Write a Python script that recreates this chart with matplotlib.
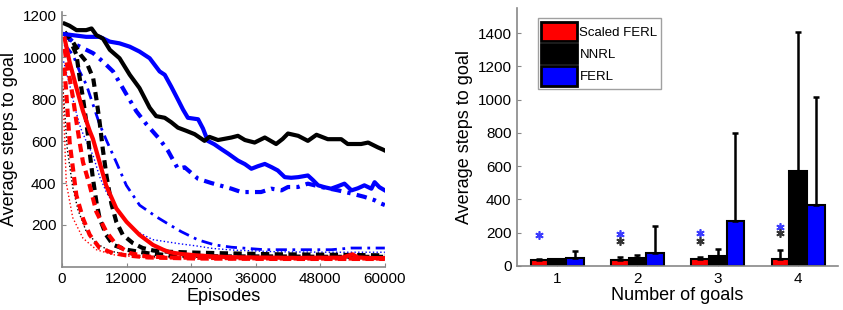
import matplotlib
matplotlib.use("Agg")
import matplotlib.pyplot as plt
import numpy as np

plt.rcParams['font.family'] = ['Liberation Sans', 'DejaVu Sans']

# ---- learning curves (episodes, average steps to goal) ----
# FERL (blue)
ferl_g4_x = [500, 2000, 4500, 7000, 8900, 10700, 12600, 14400, 16300, 18150, 19100, 20300, 21550, 22500,
             23400, 25300, 26200, 27100, 28300, 29600, 30900, 32700, 34000, 35200, 36400, 37700, 39000,
             40100, 41400, 42600, 43900, 45700, 46600, 47600, 48800, 50000, 51300, 52500, 53800, 55000,
             56200, 57500, 58100, 59000, 60000]
ferl_g4_y = [1110, 1105, 1097, 1097, 1074, 1066, 1050, 1027, 995, 932, 916, 860, 798, 750,
             711, 704, 660, 601, 585, 562, 540, 507, 490, 468, 480, 491, 475,
             460, 428, 425, 428, 436, 415, 389, 380, 373, 385, 397, 365, 375,
             389, 373, 404, 380, 365]
ferl_g3_x = [500, 2700, 5800, 7600, 9500, 12000, 13800, 15700, 18150, 19700, 21550, 22800, 25300, 27750,
             31500, 33300, 35200, 37000, 38900, 40800, 42000, 43850, 45700, 48200, 51300, 53800, 56200,
             58100, 59300, 60000]
ferl_g3_y = [1110, 1058, 1019, 979, 932, 822, 743, 680, 609, 554, 468, 475, 420, 400,
             373, 357, 357, 357, 373, 365, 381, 381, 397, 381, 365, 350, 334,
             318, 302, 295]
ferl_g2_x = [500, 2050, 3290, 4530, 5760, 7000, 8240, 10100, 11960, 14440, 17540, 19400, 22180, 25270,
             28370, 31470, 37660, 43850, 50050, 53770, 59340, 60000]
ferl_g2_y = [1060, 1011, 932, 869, 775, 680, 605, 499, 389, 294, 239, 210, 168, 129,
             105, 94, 82, 82, 82, 90, 90, 90]
ferl_g1_x = [300, 1500, 2500, 3500, 4500, 5800, 7000, 8200, 10700, 13800, 16900, 19400, 22000, 25000,
             28000, 32000, 40000, 50000, 60000]
ferl_g1_y = [980, 860, 750, 660, 600, 530, 430, 360, 250, 170, 130, 120, 110, 100,
             88, 80, 72, 70, 70]

# NNRL (black)
nnrl_g4_x = [500, 1400, 2700, 4500, 5500, 6400, 7600, 8900, 10700, 12600, 14400, 16300, 17500, 19100,
             20300, 21550, 23000, 24650, 26500, 27400, 29000, 31500, 32700, 34000, 35800, 37700, 39800,
             41000, 42000, 43900, 45700, 47300, 49400, 51900, 53100, 55600, 56900, 58700, 59600, 60000]
nnrl_g4_y = [1160, 1150, 1129, 1129, 1137, 1105, 1089, 1035, 995, 916, 853, 759, 719, 711,
             690, 664, 650, 633, 601, 620, 605, 617, 625, 605, 593, 617, 586,
             610, 636, 625, 601, 630, 609, 609, 586, 586, 593, 570, 560, 555]
nnrl_g3_x = [500, 2000, 3500, 4500, 5800, 6400, 7000, 7600, 8300, 9200, 10100, 11300, 13200, 15000,
             17000, 20000, 25000, 30000, 40000, 50000, 60000]
nnrl_g3_y = [1120, 1074, 1010, 979, 900, 800, 690, 560, 430, 300, 215, 153, 113, 90,
             78, 72, 68, 65, 60, 58, 55]
nnrl_g2_x = [500, 1400, 2700, 3300, 3900, 4500, 4840, 5150, 5760, 6400, 7000, 8200, 9500, 12000,
             16000, 20000, 30000, 40000, 50000, 60000]
nnrl_g2_y = [1100, 1089, 1011, 900, 806, 696, 625, 546, 420, 310, 231, 153, 105, 82,
             65, 55, 50, 50, 48, 48]
nnrl_g1_x = [200, 1000, 2000, 3000, 4500, 6500, 9000, 13000, 20000, 40000, 60000]
nnrl_g1_y = [850, 560, 380, 270, 170, 110, 75, 55, 48, 45, 45]

# Scaled FERL (red)
sferl_g4_x = [500, 1400, 2700, 3900, 5150, 5760, 7000, 8200, 10100, 12000, 14400, 16900, 18800, 20000,
              22000, 25000, 28000, 32000, 36000, 40000, 44000, 48000, 52000, 54000, 55000, 58000, 60000]
sferl_g4_y = [1089, 979, 853, 743, 649, 610, 499, 389, 279, 215, 153, 105, 82, 70,
              62, 55, 50, 46, 45, 44, 43, 44, 44, 60, 45, 42, 42]
sferl_g3_x = [500, 820, 1430, 2050, 2670, 3290, 3910, 5150, 6390, 8240, 10100, 12580, 15680, 20000,
              30000, 40000, 50000, 60000]
sferl_g3_y = [1040, 979, 900, 806, 696, 593, 499, 389, 263, 168, 105, 66, 50, 45,
              42, 40, 40, 40]
sferl_g2_x = [300, 500, 820, 1120, 1430, 2050, 2670, 3910, 5150, 7000, 9480, 11960, 16000, 25000,
              40000, 60000]
sferl_g2_y = [950, 932, 822, 711, 593, 468, 342, 231, 153, 90, 66, 55, 45, 40,
              38, 38]
sferl_g1_x = [100, 300, 800, 2000, 3900, 6400, 9500, 15000, 30000, 60000]
sferl_g1_y = [900, 750, 400, 235, 137, 82, 58, 45, 40, 40]

# ---- bar chart: average steps per number of goals ----
goals = [1, 2, 3, 4]
sferl_mean = [34, 36, 40, 44]
sferl_top = [42, 52, 52, 96]
nnrl_mean = [40, 46, 58, 571]
nnrl_top = [44, 68, 100, 1404]
ferl_mean = [46, 76, 270, 367]
ferl_top = [88, 242, 801, 1017]
star_ferl = [186, 192, 196, 236]
star_nnrl = [np.nan, 150, 152, 200]

RED, BLACK, BLUE = '#ff0000', '#000000', '#0000ff'
SPINE = '#888888'

fig = plt.figure(figsize=(8.43, 3.10), dpi=100)

# ---------------- left panel ----------------
ax1 = fig.add_axes([0.0735, 0.139, 0.383, 0.822])
curves = [
    (ferl_g1_x, ferl_g1_y, BLUE, ':', 1.0),
    (nnrl_g1_x, nnrl_g1_y, BLACK, ':', 1.0),
    (sferl_g1_x, sferl_g1_y, RED, ':', 1.0),
    (ferl_g2_x, ferl_g2_y, BLUE, (0, (4, 2, 1, 2)), 2.0),
    (nnrl_g2_x, nnrl_g2_y, BLACK, (0, (2, 1.3)), 3.0),
    (sferl_g2_x, sferl_g2_y, RED, (0, (2, 1.3)), 3.0),
    (ferl_g3_x, ferl_g3_y, BLUE, (0, (2.5, 1.5, 0.8, 1.5)), 3.0),
    (nnrl_g3_x, nnrl_g3_y, BLACK, (0, (2, 1.3)), 3.0),
    (sferl_g3_x, sferl_g3_y, RED, (0, (2, 1.3)), 3.0),
    (ferl_g4_x, ferl_g4_y, BLUE, '-', 3.0),
    (nnrl_g4_x, nnrl_g4_y, BLACK, '-', 3.0),
    (sferl_g4_x, sferl_g4_y, RED, '-', 3.0),
]
for xs, ys, c, ls, lw in curves:
    ax1.plot(xs, ys, color=c, linestyle=ls, linewidth=lw)

ax1.set_xlim(0, 60000)
ax1.set_ylim(0, 1215)
ax1.set_xticks(range(0, 60001, 12000))
ax1.set_yticks(range(200, 1201, 200))
ax1.set_xlabel('Episodes', fontsize=13, labelpad=1)
ax1.set_ylabel('Average steps to goal', fontsize=13, labelpad=3)

# ---------------- right panel ----------------
ax2 = fig.add_axes([0.6133, 0.142, 0.381, 0.832])
x = np.array(goals)
w = 0.22
series = [
    (x - w, sferl_mean, sferl_top, RED, 'Scaled FERL'),
    (x, nnrl_mean, nnrl_top, BLACK, 'NNRL'),
    (x + w, ferl_mean, ferl_top, BLUE, 'FERL'),
]
for xs, m, top, c, lab in series:
    ax2.bar(xs, m, width=w, color=c, edgecolor='black', linewidth=1.5, label=lab, zorder=2)
    up = np.array(top) - np.array(m)
    ax2.errorbar(xs, m, yerr=[np.zeros(len(m)), up], fmt='none', ecolor='black',
                 elinewidth=1.8, capsize=2.5, capthick=1.8, zorder=3)

ax2.plot(x - w, star_ferl, linestyle='none', marker=(6, 2, 0), color='#3a3aff',
         markersize=6, markeredgewidth=1.2)
ax2.plot(x - w, star_nnrl, linestyle='none', marker=(6, 2, 0), color='#333333',
         markersize=6, markeredgewidth=1.2)

ax2.set_xlim(0.5, 4.5)
ax2.set_ylim(0, 1550)
ax2.set_xticks(goals)
ax2.set_yticks(range(0, 1401, 200))
ax2.set_xlabel('Number of goals', fontsize=13, labelpad=1)
ax2.set_ylabel('Average steps to goal', fontsize=13, labelpad=3)

leg = ax2.legend(loc='upper left', bbox_to_anchor=(0.065, 0.96), fontsize=9.5,
                 handlelength=2.7, handleheight=1.9, handletextpad=0.2,
                 borderpad=0.25, labelspacing=0.2, fancybox=False, borderaxespad=0)
leg.get_frame().set_edgecolor(SPINE)
leg.get_frame().set_linewidth(1.0)
for h in leg.legend_handles:
    h.set_linewidth(2.0)

for ax in (ax1, ax2):
    ax.spines['top'].set_visible(False)
    ax.spines['right'].set_visible(False)
    for s in ('left', 'bottom'):
        ax.spines[s].set_color(SPINE)
        ax.spines[s].set_linewidth(1.2)
    ax.tick_params(direction='in', length=3, width=0.8, color=SPINE, labelsize=11, pad=4)

plt.savefig('out.png', dpi=100)
